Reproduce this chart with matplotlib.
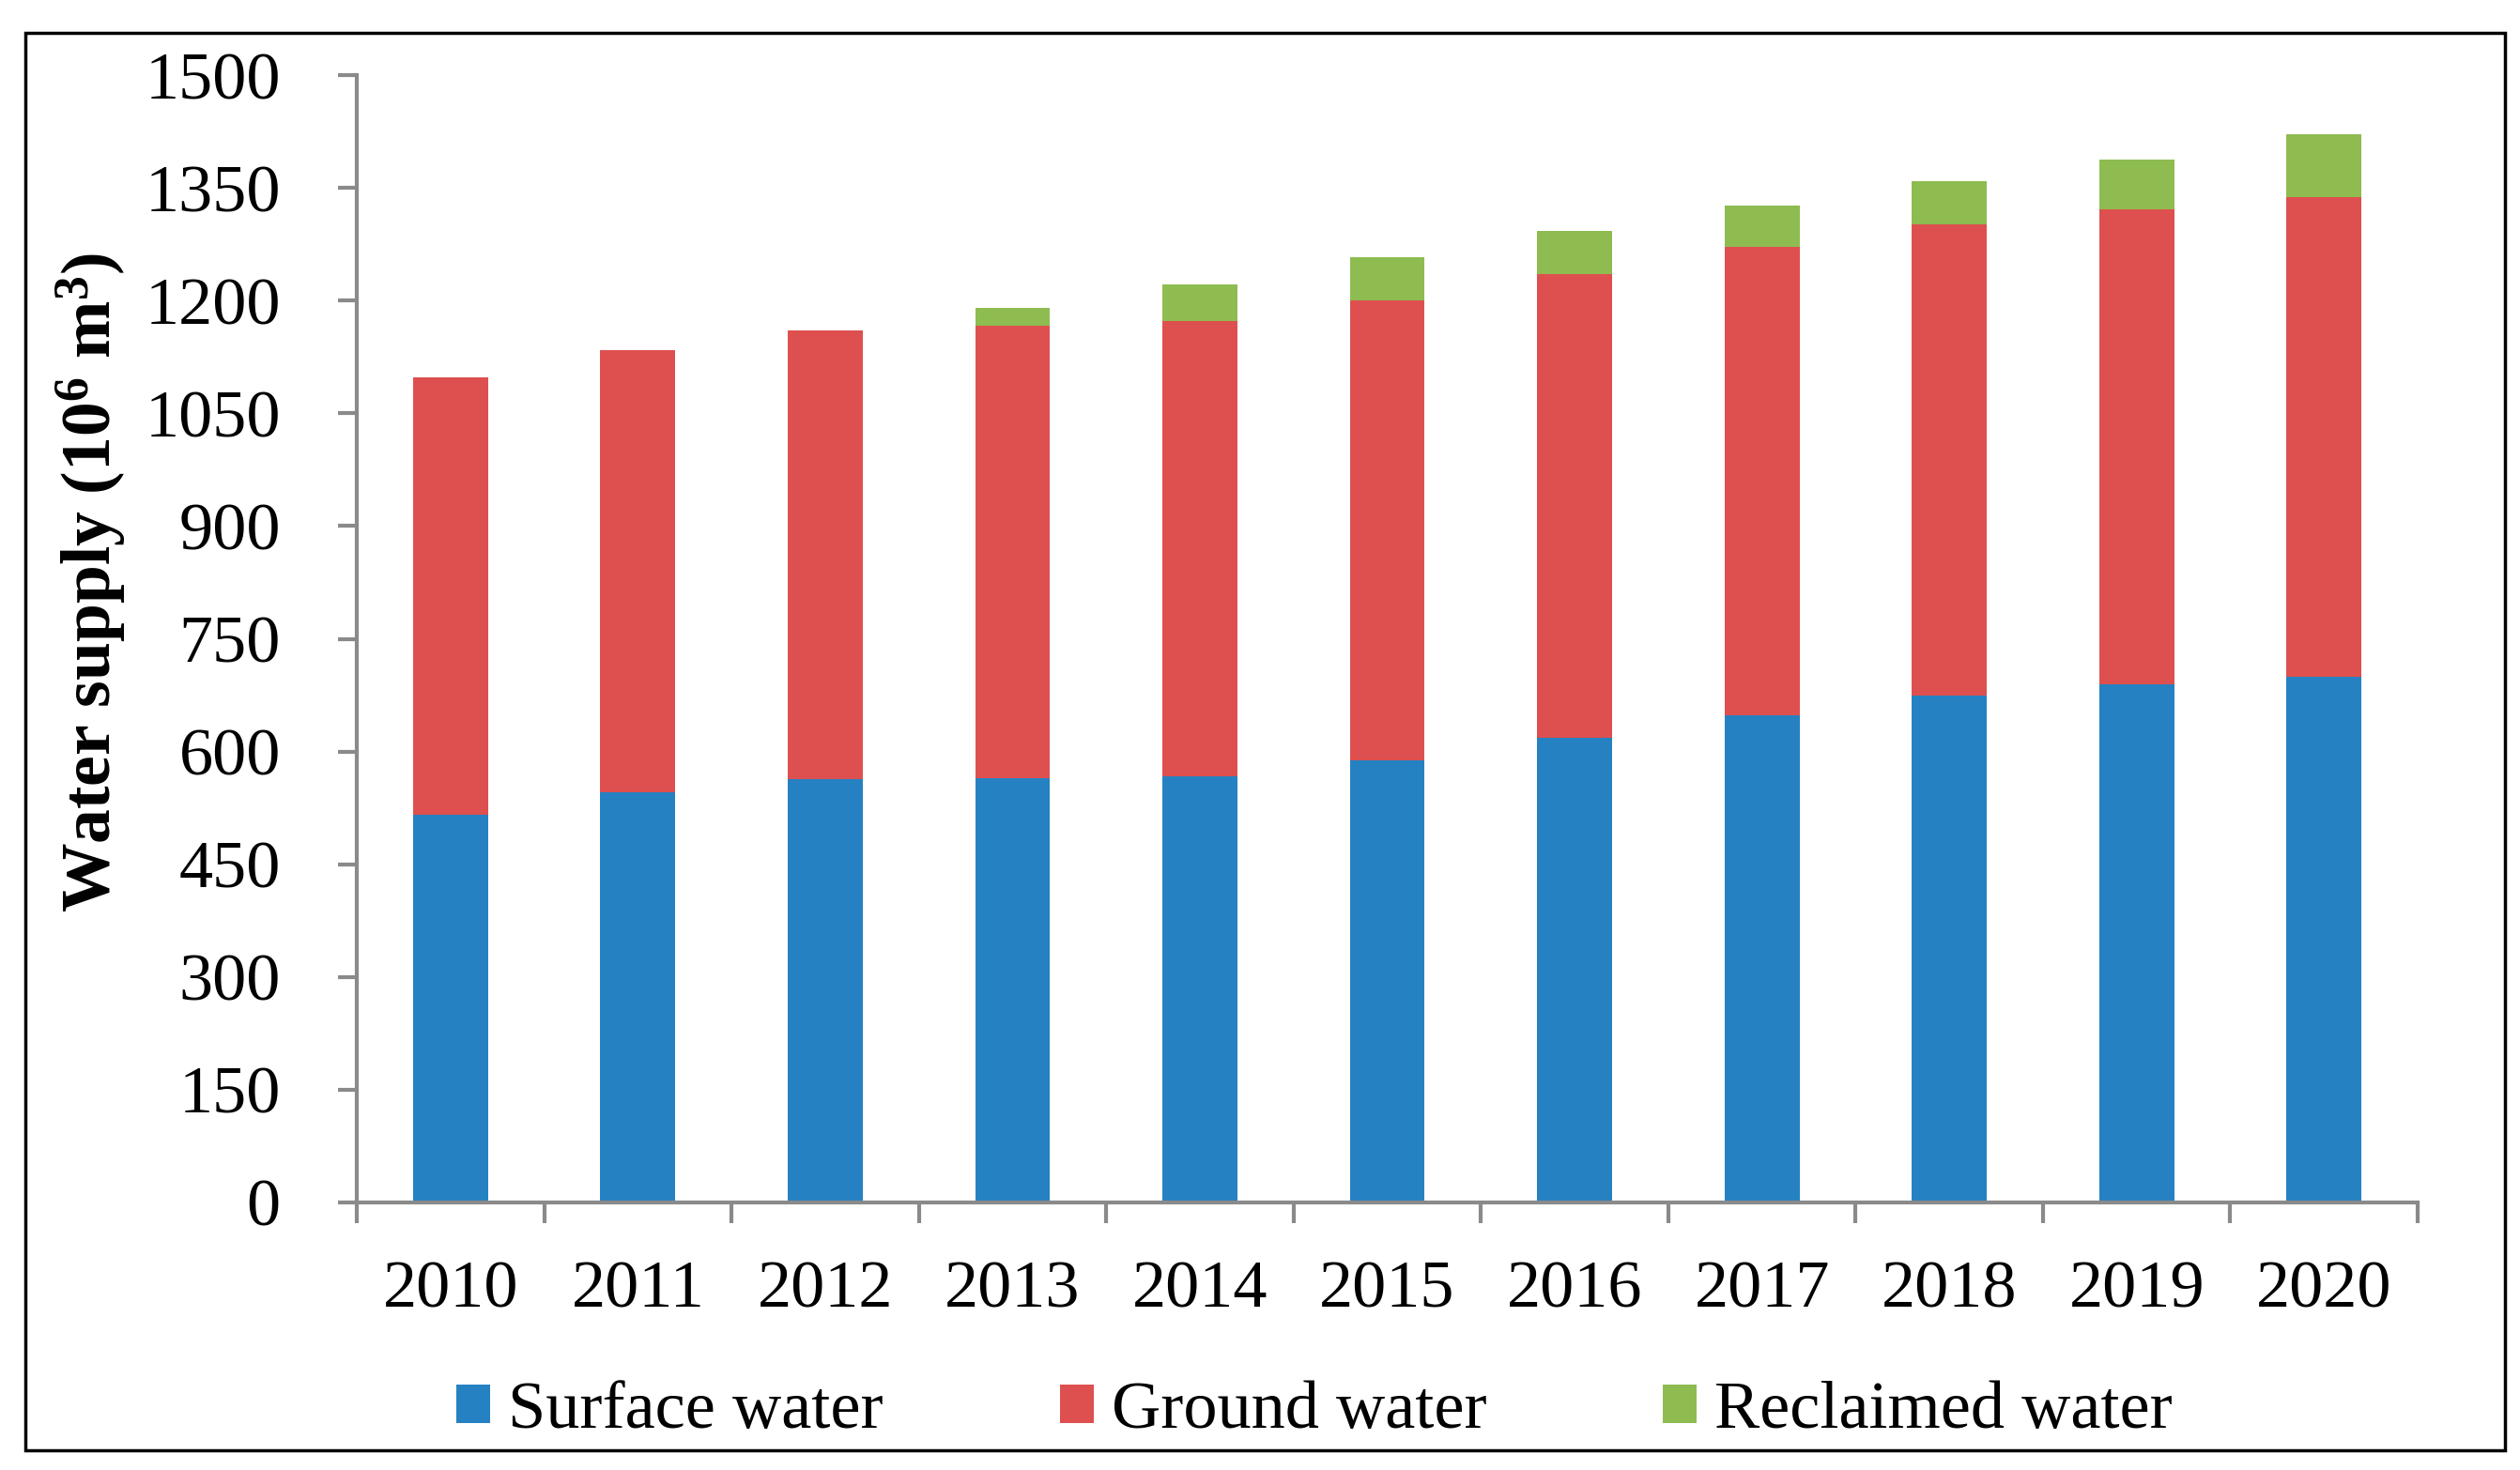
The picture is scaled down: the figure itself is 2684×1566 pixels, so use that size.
import matplotlib
matplotlib.use("Agg")
import matplotlib.pyplot as plt
import numpy as np
from matplotlib.patches import Rectangle

plt.rcParams['font.family'] = ['Liberation Serif', 'DejaVu Serif']
plt.rcParams['mathtext.fontset'] = 'custom'
plt.rcParams['mathtext.rm'] = 'Liberation Serif'
plt.rcParams['mathtext.bf'] = 'Liberation Serif:bold'
plt.rcParams['mathtext.default'] = 'bf'

# water supply by source, 10^6 m3
years = ['2010', '2011', '2012', '2013', '2014', '2015',
         '2016', '2017', '2018', '2019', '2020']
surface = [516, 546, 563, 565, 567, 588, 618, 648, 674, 689, 700]
ground = [582, 588, 597, 601, 606, 612, 617, 623, 627, 633, 638]
reclaimed = [0, 0, 0, 24, 49, 58, 58, 56, 58, 66, 83]

c_blue = '#2581C2'
c_red = '#DE504F'
c_green = '#8EBC50'
c_axis = '#8A8A8A'

fig = plt.figure(figsize=(26.84, 15.66), dpi=100)
ax = fig.add_axes([0.1416, 0.182, 0.8178, 0.7669])

xpos = np.arange(len(years))
w = 0.4
surface = np.array(surface)
ground = np.array(ground)
reclaimed = np.array(reclaimed)

ax.bar(xpos, surface, width=w, color=c_blue, label='Surface water')
ax.bar(xpos, ground, width=w, bottom=surface, color=c_red, label='Ground water')
ax.bar(xpos, reclaimed, width=w, bottom=surface + ground, color=c_green,
       label='Reclaimed water')

ax.set_xlim(-0.5, len(years) - 0.5)
ax.set_ylim(0, 1500)
ax.set_yticks(np.arange(0, 1501, 150))

# category ticks between bars, labels under bars
ax.set_xticks(np.arange(-0.5, len(years), 1.0))
ax.set_xticklabels([])
ax.set_xticks(xpos, minor=True)
ax.set_xticklabels(years, minor=True)
ax.tick_params(axis='x', which='major', direction='out', length=16,
               width=3, color=c_axis)
ax.tick_params(axis='x', which='minor', length=0, pad=44, labelsize=52)
ax.tick_params(axis='y', direction='out', length=14.5, width=3,
               color=c_axis, pad=44, labelsize=52)

for s in ['top', 'right']:
    ax.spines[s].set_visible(False)
for s in ['left', 'bottom']:
    ax.spines[s].set_color(c_axis)
    ax.spines[s].set_linewidth(3)

ax.set_ylabel(r'Water supply (10$^{6}$ m$^{3}$)', fontsize=53,
              fontweight='bold')
ax.yaxis.set_label_coords(-0.111, 0.55)

fig.legend(loc='center', bbox_to_anchor=(0.5216, 0.040), ncol=3,
           frameon=False, fontsize=52, handlelength=0.5, handleheight=0.5,
           handletextpad=0.26, columnspacing=2.6)

# outer border
fig.patches.append(Rectangle((27 / 2684, 1 - 1545 / 1566),
                             (2668 - 27) / 2684, (1545 - 35) / 1566,
                             transform=fig.transFigure, fill=False,
                             edgecolor='black', linewidth=2.5))

fig.savefig('out.png', dpi=100)
